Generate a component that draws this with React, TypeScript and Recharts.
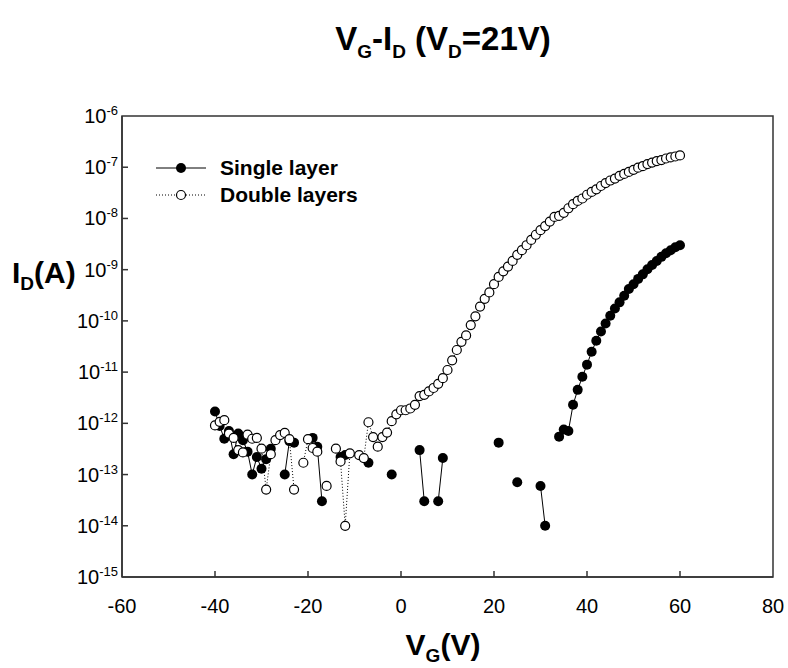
import React from "react"
import { LineChart, Line, XAxis, YAxis, ReferenceArea } from "recharts"

// gate voltage, V (1 V steps)
const vg = [
  -40, -39, -38, -37, -36, -35, -34, -33, -32, -31, -30, -29, -28, -27, -26, -25, -24, -23, -22, -21,
  -20, -19, -18, -17, -16, -15, -14, -13, -12, -11, -10, -9, -8, -7, -6, -5, -4, -3, -2, -1,
  0, 1, 2, 3, 4, 5, 6, 7, 8, 9, 10, 11, 12, 13, 14, 15, 16, 17, 18, 19,
  20, 21, 22, 23, 24, 25, 26, 27, 28, 29, 30, 31, 32, 33, 34, 35, 36, 37, 38, 39,
  40, 41, 42, 43, 44, 45, 46, 47, 48, 49, 50, 51, 52, 53, 54, 55, 56, 57, 58, 59, 60,
]

// drain current, A (null = not shown on the log axis)
const singleLayer = [
  1.7e-12, 8.9e-13, 5.0e-13, 7.1e-13, 2.5e-13, 6.3e-13, 4.7e-13, 2.8e-13, 1.0e-13, 2.2e-13,
  1.3e-13, 2.0e-13, 3.2e-13, null, null, 1.0e-13, 4.5e-13, 4.2e-13, null, null,
  null, 5.2e-13, 3.5e-13, 3.0e-14, null, null, null, 2.2e-13, 2.4e-13, null,
  null, null, null, 1.7e-13, null, null, null, null, 1.0e-13, null,
  null, null, null, null, 3.0e-13, 3.0e-14, null, null, 3.0e-14, 2.1e-13,
  null, null, null, null, null, null, null, null, null, null,
  null, 4.2e-13, null, null, null, 7.1e-14, null, null, null, null,
  6.0e-14, 1.0e-14, null, null, 5.5e-13, 7.6e-13, 7.1e-13, 2.3e-12, 4.5e-12, 8.1e-12,
  1.4e-11, 2.5e-11, 4.1e-11, 6.2e-11, 8.9e-11, 1.26e-10, 1.74e-10, 2.3e-10, 3.1e-10, 4.2e-10,
  5.2e-10, 6.6e-10, 8.1e-10, 1.02e-9, 1.23e-9, 1.48e-9, 1.78e-9, 2.1e-9, 2.4e-9, 2.75e-9, 3.0e-9,
]

const doubleLayers = [
  9.1e-13, 1.07e-12, 1.15e-12, 6.3e-13, 5.2e-13, 3.0e-13, 2.7e-13, 6.0e-13, 5.0e-13, 5.2e-13,
  3.2e-13, 5.1e-14, 2.5e-13, 4.7e-13, 5.9e-13, 6.5e-13, 4.9e-13, 5.1e-14, null, 1.7e-13,
  4.9e-13, 3.3e-13, 2.8e-13, null, 6.0e-14, null, 3.2e-13, 1.8e-13, 1.0e-14, 2.6e-13,
  null, 2.4e-13, 2.1e-13, 1.05e-12, 5.4e-13, 3.5e-13, 5.4e-13, 6.6e-13, 1.1e-12, 1.5e-12,
  1.8e-12, 1.8e-12, 1.95e-12, 2.3e-12, 3.4e-12, 3.6e-12, 4.2e-12, 4.9e-12, 5.9e-12, 7.6e-12,
  1.1e-11, 1.7e-11, 2.7e-11, 3.9e-11, 5.2e-11, 8.3e-11, 1.23e-10, 1.9e-10, 2.7e-10, 3.6e-10,
  5.2e-10, 7.2e-10, 9.3e-10, 1.15e-9, 1.48e-9, 1.95e-9, 2.4e-9, 3.0e-9, 3.8e-9, 4.8e-9,
  5.9e-9, 7.1e-9, 8.7e-9, 1.07e-8, 1.12e-8, 1.29e-8, 1.58e-8, 1.9e-8, 2.2e-8, 2.45e-8,
  2.9e-8, 3.3e-8, 3.7e-8, 4.3e-8, 4.9e-8, 5.5e-8, 6.0e-8, 6.8e-8, 7.4e-8, 8.1e-8,
  8.9e-8, 9.8e-8, 1.05e-7, 1.15e-7, 1.23e-7, 1.32e-7, 1.38e-7, 1.48e-7, 1.55e-7, 1.62e-7, 1.7e-7,
]

const xTicks = [-60, -40, -20, 0, 20, 40, 60, 80]
const yTicks = [1e-15, 1e-14, 1e-13, 1e-12, 1e-11, 1e-10, 1e-9, 1e-8, 1e-7, 1e-6]

const FONT = "'Liberation Sans', Arial, sans-serif"
const AXIS = "#333"

const data = vg.map((v, i) => ({ vg: v, single: singleLayer[i], double: doubleLayers[i] }))

const YTick = ({ x, y, payload }: any) => {
  const exp = Math.round(Math.log10(payload.value))
  return (
    <g>
      {exp > -15 && exp < -6 && <line x1={x} x2={x + 6} y1={y} y2={y} stroke={AXIS} strokeWidth={1.5} />}
      <text x={x - 4} y={y + 7} textAnchor="end" fontSize={20} fontFamily={FONT} fill="#000">
        10<tspan dy={-8} fontSize={13}>{exp}</tspan>
      </text>
    </g>
  )
}

const XTick = ({ x, y, payload }: any) => (
  <g>
    {payload.value > -60 && payload.value < 80 && (
      <line x1={x} x2={x} y1={y} y2={y - 6} stroke={AXIS} strokeWidth={1.5} />
    )}
    <text x={x} y={y + 36} textAnchor="middle" fontSize={20} fontFamily={FONT} fill="#000">
      {payload.value}
    </text>
  </g>
)

const FilledDot = (p: any) =>
  p.value == null || p.cy == null ? null : <circle key={`s-${p.index}`} cx={p.cx} cy={p.cy} r={5} fill="#000" />

const OpenDot = (p: any) =>
  p.value == null || p.cy == null ? null : (
    <circle key={`d-${p.index}`} cx={p.cx} cy={p.cy} r={4.5} fill="#fff" stroke="#000" strokeWidth={1.2} />
  )

const LegendBox = () => (
  <div
    style={{
      position: "absolute", left: 156, top: 154, fontFamily: FONT, fontWeight: "bold", fontSize: 21,
      lineHeight: "27px",
    }}
  >
    <div style={{ display: "flex", alignItems: "center" }}>
      <svg width={64} height={14}>
        <line x1={0} x2={50} y1={7} y2={7} stroke="#000" strokeWidth={1} />
        <circle cx={25} cy={7} r={5} fill="#000" />
      </svg>
      <span>Single layer</span>
    </div>
    <div style={{ display: "flex", alignItems: "center" }}>
      <svg width={64} height={14}>
        <line x1={0} x2={50} y1={7} y2={7} stroke="#000" strokeWidth={1} strokeDasharray="1 2" />
        <circle cx={25} cy={7} r={4.5} fill="#fff" stroke="#000" strokeWidth={1.2} />
      </svg>
      <span>Double layers</span>
    </div>
  </div>
)

const sub = { fontSize: 19 }

export default function App() {
  return (
    <div style={{ position: "relative", width: 788, height: 668, background: "#fff" }}>
      <style>{"body{margin:0}"}</style>
      <div
        style={{
          position: "absolute", left: 0, width: 886, top: 20, textAlign: "center",
          fontFamily: FONT, fontWeight: "bold", fontSize: 33,
        }}
      >
        V<sub style={sub}>G</sub>-I<sub style={sub}>D</sub> (V<sub style={sub}>D</sub>=21V)
      </div>
      <div
        style={{
          position: "absolute", left: 12, top: 256, fontFamily: FONT, fontWeight: "bold", fontSize: 30,
        }}
      >
        I<sub style={sub}>D</sub>(A)
      </div>
      <div
        style={{
          position: "absolute", left: 0, width: 886, top: 628, textAlign: "center",
          fontFamily: FONT, fontWeight: "bold", fontSize: 30,
        }}
      >
        V<sub style={sub}>G</sub>(V)
      </div>
      <LineChart width={788} height={668} data={data} margin={{ top: 116, right: 15, bottom: 51, left: 60 }}>
        <ReferenceArea
          x1={-60} x2={80} y1={1e-15} y2={1e-6}
          fill="none" stroke={AXIS} strokeWidth={1.5} fillOpacity={0}
        />
        <XAxis
          dataKey="vg" type="number" domain={[-60, 80]} ticks={xTicks} height={40}
          tickSize={0} tickMargin={0} tick={<XTick />} axisLine={{ stroke: AXIS, strokeWidth: 1.5 }}
          allowDataOverflow
        />
        <YAxis
          type="number" scale="log" domain={[1e-15, 1e-6]} ticks={yTicks} width={62}
          tickSize={0} tickMargin={0} tick={<YTick />} axisLine={{ stroke: AXIS, strokeWidth: 1.5 }}
          allowDataOverflow interval={0}
        />
        <Line
          dataKey="single" stroke="#000" strokeWidth={1} dot={FilledDot} activeDot={false}
          isAnimationActive={false} connectNulls={false}
        />
        <Line
          dataKey="double" stroke="#000" strokeWidth={1} strokeDasharray="1 2" dot={OpenDot}
          activeDot={false} isAnimationActive={false} connectNulls={false}
        />
      </LineChart>
      <LegendBox />
    </div>
  )
}
